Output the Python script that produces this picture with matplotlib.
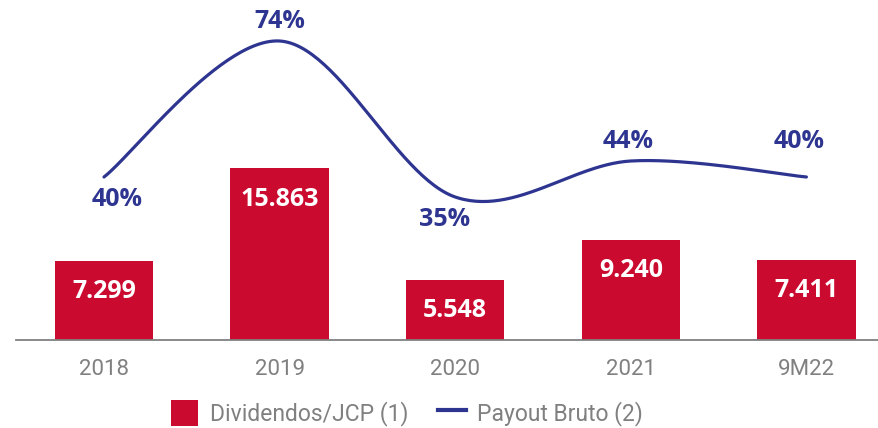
import matplotlib.pyplot as plt
from matplotlib.patches import Patch
from matplotlib.lines import Line2D
import numpy as np

plt.rcParams['font.family'] = ['Roboto', 'DejaVu Sans']

categories = ['2018', '2019', '2020', '2021', '9M22']
dividendos = [7.299, 15.863, 5.548, 9.240, 7.411]
payout = [40, 74, 35, 44, 40]
div_labels = ['7.299', '15.863', '5.548', '9.240', '7.411']
payout_labels = ['40%', '74%', '35%', '44%', '40%']

RED = '#CB0A30'
NAVY = '#2E3590'
GREY = '#808080'

# label offsets in pixels (dx, dy) for the payout labels
pct_offsets = [(13, -22), (0, 20), (-11, -23), (-3, 20), (-7, 35)]


def catmull_rom(x, y, n=60):
    # uniform catmull-rom spline, close to the "smoothed line" look
    px = np.concatenate([[x[0]], x, [x[-1]]])
    py = np.concatenate([[y[0]], y, [y[-1]]])
    xs, ys = [], []
    t = np.linspace(0, 1, n)
    for i in range(1, len(px) - 2):
        p0, p1, p2, p3 = px[i - 1], px[i], px[i + 1], px[i + 2]
        q0, q1, q2, q3 = py[i - 1], py[i], py[i + 1], py[i + 2]
        cx = 0.5 * ((2 * p1) + (-p0 + p2) * t + (2 * p0 - 5 * p1 + 4 * p2 - p3) * t ** 2
                    + (-p0 + 3 * p1 - 3 * p2 + p3) * t ** 3)
        cy = 0.5 * ((2 * q1) + (-q0 + q2) * t + (2 * q0 - 5 * q1 + 4 * q2 - q3) * t ** 2
                    + (-q0 + 3 * q1 - 3 * q2 + q3) * t ** 3)
        xs.append(cx)
        ys.append(cy)
    return np.concatenate(xs), np.concatenate(ys)


W, H = 879, 428
fig = plt.figure(figsize=[W / 100, H / 100], dpi=100)
# axes: x from 16px to right edge, baseline at 340px
ax = fig.add_axes([16 / W, (H - 340) / H, 1 - 16 / W, 340 / H])
ax2 = ax.twinx()

x = np.arange(len(categories))
ax.bar(x, dividendos, width=0.56, color=RED, zorder=2)
for xi, v, lab in zip(x, dividendos, div_labels):
    ax.annotate(lab, (xi, v), xytext=(0, -31), textcoords='offset pixels',
                ha='center', va='center', color='white', fontsize=18,
                fontweight='bold', family='Open Sans')

sx, sy = catmull_rom(x.astype(float), np.array(payout, dtype=float))
ax2.plot(sx, sy, color=NAVY, lw=2.3, solid_capstyle='round', zorder=3)
for xi, v, lab, (dx, dy) in zip(x, payout, payout_labels, pct_offsets):
    ax2.annotate(lab, (xi, v), xytext=(dx, dy), textcoords='offset pixels',
                 ha='center', va='center', color=NAVY, fontsize=18,
                 fontweight='bold', family='Open Sans')

step = 175.6
ax.set_xlim((16 - 104) / step, (879 - 104) / step)
ax.set_ylim(0, 340 / 10.84)
ax2.set_ylim(-0.75, 84.25)

ax.set_xticks(x)
ax.set_xticklabels(categories, fontsize=16, color=GREY)
ax.tick_params(axis='x', length=0, pad=14)
ax.set_yticks([])
ax2.set_yticks([])
for a in (ax, ax2):
    for s in ('top', 'right', 'left'):
        a.spines[s].set_visible(False)
ax2.spines['bottom'].set_visible(False)
ax.spines['bottom'].set_color(GREY)
ax.spines['bottom'].set_linewidth(1.3)

handles = [Patch(facecolor=RED, edgecolor='none'),
           Line2D([0], [0], color=NAVY, lw=3)]
leg = fig.legend(handles, ['Dividendos/JCP (1)', 'Payout Bruto (2)'],
                 loc='center', bbox_to_anchor=(407 / W, 1 - 413 / H), ncol=2,
                 frameon=False, fontsize=16.5, handlelength=1.2, handleheight=1.4,
                 handletextpad=0.5, columnspacing=1.3)
for t in leg.get_texts():
    t.set_color(GREY)

plt.savefig('out.png', dpi=100)
